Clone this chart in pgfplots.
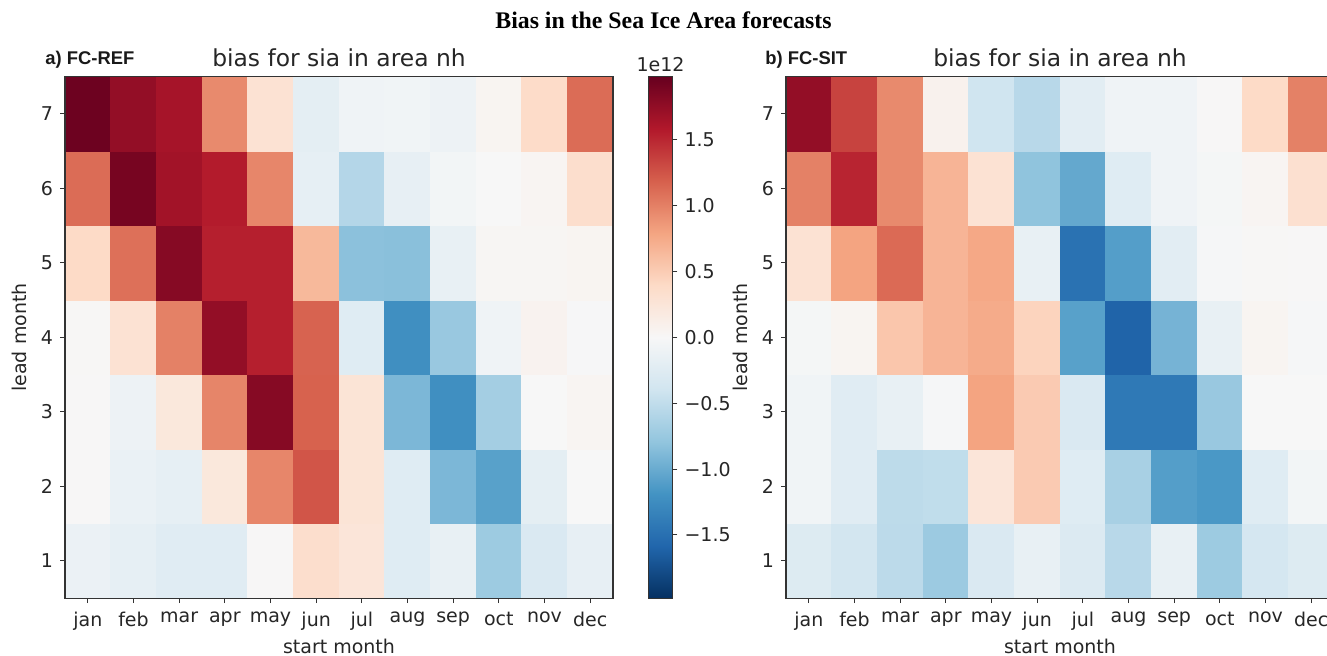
\documentclass[border=0pt]{standalone}
\usepackage{pgfplots}
\pgfplotsset{compat=1.18}
\usepackage{pgfplotstable}
\usepackage{fontspec}
\setmainfont{DejaVu Sans}
\newfontfamily\titlefont{Liberation Serif}
\newfontfamily\panelfont{Liberation Sans}

% FC-REF bias (x = start month, y = lead month, c = bias in 1e12)
\pgfplotstableread[row sep=\\]{
x y c\\
1 1 -0.12\\ 2 1 -0.18\\ 3 1 -0.24\\ 4 1 -0.24\\ 5 1 0.01\\ 6 1 0.35\\ 7 1 0.25\\ 8 1 -0.25\\ 9 1 -0.15\\ 10 1 -0.72\\ 11 1 -0.30\\ 12 1 -0.17\\
1 2 0.01\\ 2 2 -0.13\\ 3 2 -0.18\\ 4 2 0.22\\ 5 2 0.97\\ 6 2 1.25\\ 7 2 0.27\\ 8 2 -0.25\\ 9 2 -0.90\\ 10 2 -1.08\\ 11 2 -0.20\\ 12 2 0.00\\
1 3 0.01\\ 2 3 -0.10\\ 3 3 0.22\\ 4 3 0.98\\ 5 3 1.82\\ 6 3 1.18\\ 7 3 0.27\\ 8 3 -0.90\\ 9 3 -1.22\\ 10 3 -0.68\\ 11 3 0.00\\ 12 3 0.04\\
1 4 0.02\\ 2 4 0.30\\ 3 4 1.00\\ 4 4 1.75\\ 5 4 1.55\\ 6 4 1.17\\ 7 4 -0.25\\ 8 4 -1.22\\ 9 4 -0.75\\ 10 4 -0.08\\ 11 4 0.07\\ 12 4 -0.01\\
1 5 0.40\\ 2 5 1.10\\ 3 5 1.82\\ 4 5 1.55\\ 5 5 1.55\\ 6 5 0.65\\ 7 5 -0.82\\ 8 5 -0.83\\ 9 5 -0.15\\ 10 5 0.03\\ 11 5 0.03\\ 12 5 0.05\\
1 6 1.12\\ 2 6 1.90\\ 3 6 1.67\\ 4 6 1.57\\ 5 6 0.97\\ 6 6 -0.18\\ 7 6 -0.58\\ 8 6 -0.17\\ 9 6 -0.05\\ 10 6 0.00\\ 11 6 0.04\\ 12 6 0.35\\
1 7 1.95\\ 2 7 1.75\\ 3 7 1.65\\ 4 7 0.95\\ 5 7 0.30\\ 6 7 -0.20\\ 7 7 -0.08\\ 8 7 -0.07\\ 9 7 -0.10\\ 10 7 0.05\\ 11 7 0.38\\ 12 7 1.12\\
}\refdata

% FC-SIT bias
\pgfplotstableread[row sep=\\]{
x y c\\
1 1 -0.27\\ 2 1 -0.37\\ 3 1 -0.53\\ 4 1 -0.73\\ 5 1 -0.30\\ 6 1 -0.15\\ 7 1 -0.28\\ 8 1 -0.55\\ 9 1 -0.15\\ 10 1 -0.72\\ 11 1 -0.35\\ 12 1 -0.27\\
1 2 -0.07\\ 2 2 -0.24\\ 3 2 -0.52\\ 4 2 -0.50\\ 5 2 0.25\\ 6 2 0.52\\ 7 2 -0.25\\ 8 2 -0.65\\ 9 2 -1.10\\ 10 2 -1.15\\ 11 2 -0.25\\ 12 2 -0.05\\
1 3 -0.07\\ 2 3 -0.24\\ 3 3 -0.15\\ 4 3 -0.02\\ 5 3 0.80\\ 6 3 0.52\\ 7 3 -0.30\\ 8 3 -1.42\\ 9 3 -1.42\\ 10 3 -0.75\\ 11 3 0.00\\ 12 3 0.00\\
1 4 -0.03\\ 2 4 0.05\\ 3 4 0.55\\ 4 4 0.68\\ 5 4 0.75\\ 6 4 0.45\\ 7 4 -1.08\\ 8 4 -1.60\\ 9 4 -0.93\\ 10 4 -0.15\\ 11 4 0.05\\ 12 4 -0.02\\
1 5 0.30\\ 2 5 0.80\\ 3 5 1.13\\ 4 5 0.68\\ 5 5 0.77\\ 6 5 -0.15\\ 7 5 -1.48\\ 8 5 -1.10\\ 9 5 -0.22\\ 10 5 -0.02\\ 11 5 0.02\\ 12 5 0.01\\
1 6 1.00\\ 2 6 1.52\\ 3 6 0.95\\ 4 6 0.68\\ 5 6 0.30\\ 6 6 -0.80\\ 7 6 -1.02\\ 8 6 -0.25\\ 9 6 -0.08\\ 10 6 -0.03\\ 11 6 0.04\\ 12 6 0.32\\
1 7 1.75\\ 2 7 1.35\\ 3 7 0.95\\ 4 7 0.08\\ 5 7 -0.40\\ 6 7 -0.55\\ 7 7 -0.22\\ 8 7 -0.08\\ 9 7 -0.08\\ 10 7 0.01\\ 11 7 0.40\\ 12 7 1.00\\
}\sitdata

\pgfplotsset{
  colormap={rdbu}{rgb255=(5,48,97) rgb255=(33,102,172) rgb255=(67,147,195)
    rgb255=(146,197,222) rgb255=(209,229,240) rgb255=(247,247,247)
    rgb255=(253,219,199) rgb255=(244,165,130) rgb255=(214,96,77)
    rgb255=(178,24,43) rgb255=(103,0,31)},
  heat/.style={
    scale only axis, width=274pt, height=260.75pt,
    xmin=0.5, xmax=12.5, ymin=0.5, ymax=7.5,
    xtick={1,...,12},
    xticklabels={jan,feb,mar,apr,may,jun,jul,aug,sep,oct,nov,dec},
    ytick={1,...,7},
    xtick pos=bottom, ytick pos=left,
    tick align=outside, major tick length=2.5pt,
    tick style={black!80, line width=0.5pt},
    axis line style={black!80, line width=0.6pt},
    ticklabel style={font=\fontsize{9.5}{11}\selectfont, text=black!85},
    xticklabel style={yshift=-1pt},
    /pgf/number format/assume math mode=true,
    xlabel={start month}, ylabel={lead month},
    label style={font=\fontsize{9.5}{11}\selectfont, text=black!85},
    xlabel style={at={(axis description cs:0.5,0)}, anchor=center, yshift=-24pt},
    ylabel style={at={(axis description cs:-0.084,0.5)}, anchor=center},
    title={bias for sia in area nh},
    title style={font=\fontsize{11.7}{13}\selectfont, text=black!85,
      at={(axis description cs:0.5,1)}, anchor=south, yshift=-4.4pt},
    colormap name=rdbu, point meta min=-1.98, point meta max=1.98,
    axis on top,
  },
}

\begin{document}
\begin{tikzpicture}
\path[use as bounding box] (0,0) rectangle (663.5pt,327.5pt);

\begin{axis}[heat, at={(32.5pt,28.4pt)}, anchor=south west,
  colorbar,
  colorbar style={
    at={(parent axis.north east)}, anchor=north west, xshift=9.2pt,
    width=12pt,
    ytick pos=right,
    ytick={-1.5,-1,-0.5,0,0.5,1,1.5},
    yticklabels={−1.5,−1.0,−0.5,0.0,0.5,1.0,1.5},
    tick align=outside, major tick length=2.5pt,
    tick style={black!80, line width=0.5pt},
    axis line style={black!80, line width=0.6pt},
    yticklabel style={font=\fontsize{9.5}{11}\selectfont, text=black!85},
    title={1e12},
    title style={font=\fontsize{9.5}{11}\selectfont, text=black!85, yshift=-7pt},
  }]
  \addplot[matrix plot*, mesh/cols=12, mesh/rows=7, point meta=explicit]
    table[x=x, y=y, meta=c] {\refdata};
\end{axis}

\begin{axis}[heat, at={(393pt,28.4pt)}, anchor=south west]
  \addplot[matrix plot*, mesh/cols=12, mesh/rows=7, point meta=explicit]
    table[x=x, y=y, meta=c] {\sitdata};
\end{axis}

\node[font=\titlefont\bfseries\fontsize{11.9}{13}\selectfont] at (331.75pt,317.5pt)
  {Bias in the Sea Ice Area forecasts};
\node[anchor=west, inner sep=0pt, font=\panelfont\bfseries\fontsize{9.2}{11}\selectfont, text=black!90]
  at (22.5pt,297.5pt) {a) FC-REF};
\node[anchor=west, inner sep=0pt, font=\panelfont\bfseries\fontsize{9.2}{11}\selectfont, text=black!90]
  at (382.5pt,297.5pt) {b) FC-SIT};
\end{tikzpicture}
\end{document}
